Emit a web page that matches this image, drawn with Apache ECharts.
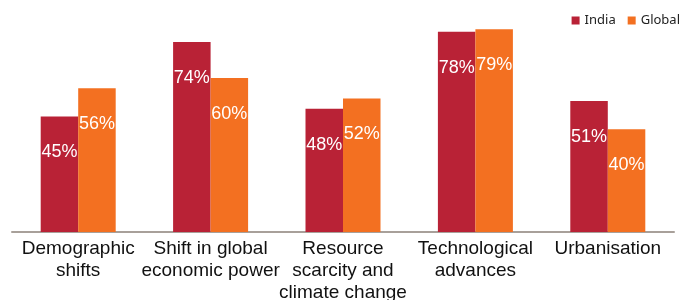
<!DOCTYPE html>
<html>
<head>
<meta charset="utf-8">
<script src="https://cdn.jsdelivr.net/npm/echarts@6/dist/echarts.min.js"></script>
<style>
  html, body { margin: 0; padding: 0; background: #fff; }
  #chart { width: 696px; height: 300px; }
</style>
</head>
<body>
<div id="chart"></div>
<script>
var categories = [
  "Demographic\nshifts",
  "Shift in global\neconomic power",
  "Resource\nscarcity and\nclimate change",
  "Technological\nadvances",
  "Urbanisation"
];
var indiaValues = [45, 74, 48, 78, 51];
var globalValues = [56, 60, 52, 79, 40];

var chart = echarts.init(document.getElementById("chart"), null, { renderer: "canvas" });

var barLabel = {
  show: true,
  position: ["50%", 36],
  align: "center",
  verticalAlign: "middle",
  color: "#fff",
  fontFamily: "Liberation Sans",
  fontSize: 18,
  formatter: "{c}%"
};

var option = {
  animation: false,
  textStyle: { fontFamily: "Liberation Sans" },
  legend: {
    data: ["India", "Global"],
    top: 9,
    right: 11,
    itemWidth: 8,
    itemHeight: 8,
    itemGap: 12,
    icon: "rect",
    textStyle: { fontFamily: "Noto Sans", fontSize: 13, color: "#222" }
  },
  grid: { left: 12, right: 22, top: 26.6, bottom: 68, outerBoundsMode: "none" },
  xAxis: {
    type: "category",
    data: categories,
    axisLine: { lineStyle: { color: "#a8a09a", width: 2 } },
    axisTick: { show: false },
    axisLabel: {
      interval: 0,
      hideOverlap: false,
      color: "#111",
      fontFamily: "Liberation Sans",
      fontSize: 19,
      lineHeight: 22,
      margin: 6
    }
  },
  yAxis: {
    type: "value",
    min: 0,
    max: 80,
    show: false,
    splitLine: { show: false }
  },
  series: [
    {
      name: "India",
      type: "bar",
      data: indiaValues,
      barWidth: 37.5,
      barGap: "0%",
      itemStyle: { color: "#b92236" },
      label: barLabel
    },
    {
      name: "Global",
      type: "bar",
      data: globalValues,
      barWidth: 37.5,
      itemStyle: { color: "#f37021" },
      label: barLabel
    }
  ]
};

chart.setOption(option);
</script>
</body>
</html>
